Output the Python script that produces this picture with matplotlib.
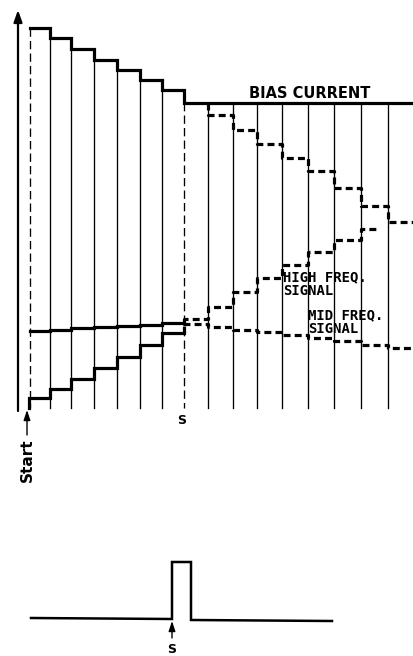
import matplotlib
matplotlib.use("Agg")
import matplotlib.pyplot as plt

plt.rcParams['lines.scale_dashes'] = False

# ---- data (pixel-frame positions) ----
step_x = [30, 50, 71, 94, 117, 140, 162, 184, 208, 233, 257, 282, 308, 334, 361, 388]
x_end = 414
s_idx = 7                      # index of the "S" instant in step_x
axis_y = 408

bias_before = [28, 38, 49, 60, 70, 80, 90]
bias_after = 103
upper_after = [115, 130, 144, 158, 171, 188, 206, 222]
high_before = [398, 389, 379, 368, 357, 345, 333]
high_after = [319, 307, 292, 278, 265, 252, 240, 229]
high_after_end = 378
mid_before = [331, 330, 328, 327, 326, 325, 323]
mid_after = [324, 327, 330, 332, 335, 338, 341, 345, 348]

pulse_x = [31, 172, 172, 191, 191, 332]
pulse_y = [618, 619, 562, 562, 620, 621]

labels = {"bias": "BIAS CURRENT", "high": "HIGH FREQ.\nSIGNAL",
          "mid": "MID FREQ.\nSIGNAL", "start": "Start", "s": "S"}

# ---- figure ----
fig = plt.figure(figsize=(4.14, 6.56), dpi=100)
ax = fig.add_axes([0, 0, 1, 1])
ax.set_xlim(0, 414)
ax.set_ylim(656, 0)
ax.axis('off')

K = 'black'
THICK = 2.3
THIN = 0.95


def stairs(xs, levels, x0=None, y0=None, x_last=None):
    px, py = [], []
    if x0 is not None:
        px.append(x0); py.append(y0)
    for i, lv in enumerate(levels):
        xa = xs[i]
        xb = xs[i + 1] if i + 1 < len(xs) else x_last
        px += [xa, xb]
        py += [lv, lv]
    return px, py

# axes
ax.annotate('', xy=(18, 10), xytext=(18, 411),
            arrowprops=dict(arrowstyle='-|>,head_length=0.7,head_width=0.25', lw=1.6, color=K, shrinkA=0, shrinkB=0))
ax.annotate('', xy=(418, axis_y), xytext=(13, axis_y),
            arrowprops=dict(arrowstyle='-|>,head_length=0.7,head_width=0.25', lw=1.6, color=K, shrinkA=0, shrinkB=0))

# verticals before S
ax.plot([step_x[0], step_x[0]], [bias_before[0], axis_y], color=K, lw=THIN, dashes=(6, 3))
for i in range(1, s_idx):
    ax.plot([step_x[i], step_x[i]], [bias_before[i - 1], axis_y], color=K, lw=THIN)
ax.plot([step_x[s_idx], step_x[s_idx]], [bias_before[-1], axis_y], color=K, lw=THIN, dashes=(6, 3))
# verticals after S
for x in step_x[s_idx + 1:]:
    ax.plot([x, x], [bias_after, axis_y], color=K, lw=THIN)

# bias current (solid)
bx, by = stairs(step_x[:s_idx + 1], bias_before, x_last=step_x[s_idx])
bx += [step_x[s_idx], x_end]
by += [bias_after, bias_after]
ax.plot(bx, by, color=K, lw=THICK, solid_joinstyle='miter')

# upper dashed staircase after S
ux, uy = stairs(step_x[s_idx + 1:], upper_after, x0=step_x[s_idx + 1], y0=bias_after, x_last=x_end)
ax.plot(ux, uy, color=K, lw=THICK, dashes=(5, 3))

# high frequency signal
hx, hy = stairs(step_x[:s_idx + 1], high_before, x0=step_x[0] - 1, y0=axis_y, x_last=step_x[s_idx])
hx[1] = step_x[0] - 1
ax.plot(hx, hy, color=K, lw=THICK, solid_joinstyle='miter')
hx2, hy2 = stairs(step_x[s_idx:], high_after, x0=step_x[s_idx], y0=high_before[-1], x_last=high_after_end)
hx2[-1] = high_after_end
ax.plot(hx2, hy2, color=K, lw=THICK, dashes=(5, 3))

# mid frequency signal
mx, my = stairs(step_x[:s_idx + 1], mid_before, x_last=step_x[s_idx])
ax.plot(mx, my, color=K, lw=THICK, solid_joinstyle='miter')
mx2, my2 = stairs(step_x[s_idx:], mid_after, x0=step_x[s_idx], y0=mid_before[-1], x_last=x_end)
ax.plot(mx2, my2, color=K, lw=THICK, dashes=(5, 3))

# labels
ax.text(310, 94, labels["bias"], fontsize=10.5, fontweight='bold', ha='center', va='center', color=K)
ax.text(283, 284, labels["high"], fontsize=10, fontweight='bold', ha='left', va='center',
        color=K, linespacing=1.0, family='DejaVu Sans Mono')
ax.text(308, 322, labels["mid"], fontsize=10, fontweight='bold', ha='left', va='center',
        color=K, linespacing=1.0, family='DejaVu Sans Mono')
ax.text(182, 421, labels["s"], fontsize=9, fontweight='bold', ha='center', va='center', color=K)

# start arrow + label
ax.annotate('', xy=(27, 410), xytext=(27, 435),
            arrowprops=dict(arrowstyle='-|>,head_length=0.6,head_width=0.2', lw=1.0, color=K, shrinkA=0, shrinkB=0))
ax.text(27, 460, labels["start"], fontsize=11, fontweight='bold', rotation=90,
        ha='center', va='center', color=K)

# bottom pulse
ax.plot(pulse_x, pulse_y, color=K, lw=1.8, solid_joinstyle='miter')
ax.annotate('', xy=(172, 621), xytext=(172, 638),
            arrowprops=dict(arrowstyle='-|>,head_length=0.6,head_width=0.2', lw=1.0, color=K, shrinkA=0, shrinkB=0))
ax.text(172, 643, labels["s"], fontsize=9, fontweight='bold', ha='center', va='top', color=K)

fig.savefig('out.png', dpi=100)
